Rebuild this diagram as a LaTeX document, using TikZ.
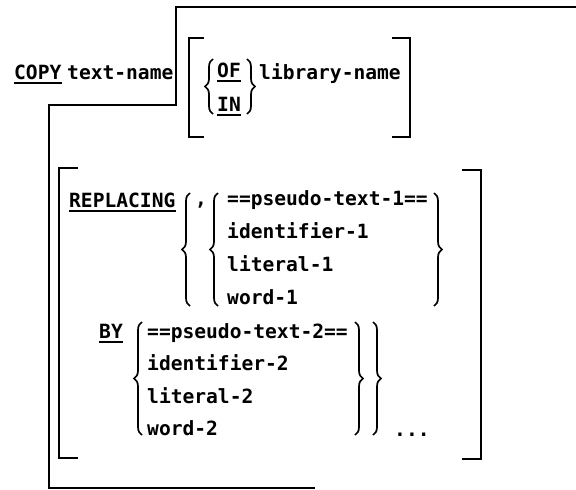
\documentclass[tikz,border=0pt]{standalone}
\usepackage{fontspec}
\setmonofont{DejaVu Sans Mono}
\usetikzlibrary{decorations.pathreplacing}

\begin{document}
\begin{tikzpicture}[x=1pt, y=-1pt,
    txt/.style={anchor=base west, inner sep=0pt, font=\fontsize{19.6}{22}\selectfont\ttfamily\bfseries},
    rule/.style={line width=1.7pt},
    ul/.style={line width=1.6pt},
    br/.style={line width=1.7pt, decorate, decoration={brace, amplitude=8pt}}]

  \useasboundingbox (0,0) rectangle (576,490);

  % outer frame
  \draw[rule] (576,7) -- (176,7) -- (176,105) -- (49,105) -- (49,488) -- (315,488);

  % first line
  \node[txt] (copy) at (14,79) {COPY};
  \node[txt] (tname) at (67,79) {text-name};
  \draw[ul] ([yshift=-4pt]copy.base west) -- ([yshift=-4pt]copy.base east);

  \draw[rule] (204,38) -- (189,38) -- (189,137) -- (204,137);
  \draw[rule] (392,38) -- (410,38) -- (410,137) -- (392,137);

  \node[txt] (of) at (217,77) {OF};
  \node[txt] (in) at (217,111) {IN};
  \draw[ul] ([yshift=-4pt]of.base west) -- ([yshift=-4pt]of.base east);
  \draw[ul] ([yshift=-4pt]in.base west) -- ([yshift=-4pt]in.base east);
  \draw[br] (213,114) -- (213,59);
  \draw[br] (247,59) -- (247,114);
  \node[txt] (lname) at (259,79) {library-name};

  % replacing clause
  \draw[rule] (78,168) -- (59,168) -- (59,458) -- (78,458);
  \draw[rule] (462,170) -- (481,170) -- (481,459) -- (462,459);

  \node[txt] (repl) at (69,207) {REPLACING};
  \draw[ul] ([yshift=-4pt]repl.base west) -- ([yshift=-4pt]repl.base east);
  \draw[br] (190,306) -- (190,193);
  \node[txt] (comma) at (195,205) {,};
  \draw[br] (218,306) -- (218,193);
  \foreach \t [count=\i] in {==pseudo-text-1==, identifier-1, literal-1, word-1}
    \node[txt] (a\i) at (227,{172+33*\i}) {\t};
  \draw[br] (434,193) -- (434,306);

  \node[txt] (by) at (99,338) {BY};
  \draw[ul] ([yshift=-4pt]by.base west) -- ([yshift=-4pt]by.base east);
  \draw[br] (142,435) -- (142,322);
  \foreach \t [count=\i] in {==pseudo-text-2==, identifier-2, literal-2, word-2}
    \node[txt] (b\i) at (147,{305.5+32.5*\i}) {\t};
  \draw[br] (355,322) -- (355,435);
  \draw[br] (373,322) -- (373,435);
  \node[txt] (dots) at (394,436) {...};

\end{tikzpicture}
\end{document}
